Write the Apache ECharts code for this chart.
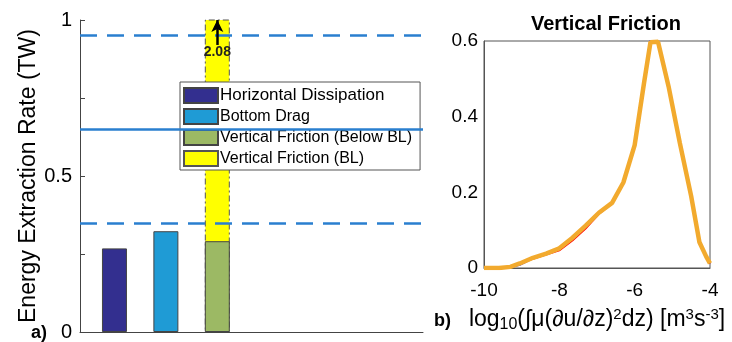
<!DOCTYPE html>
<html>
<head>
<meta charset="utf-8" />
<title>Energy Extraction</title>
<script src="https://cdn.jsdelivr.net/npm/echarts@6/dist/echarts.min.js"></script>
<style>
  html, body { margin: 0; padding: 0; background: #fff; }
  #main { width: 732px; height: 342px; }
</style>
</head>
<body>
<div id="main"></div>
<script type="text/javascript">
// panel a) bars
var barNames = ['Horizontal Dissipation', 'Bottom Drag', 'Vertical Friction (Below BL)', 'Vertical Friction (BL)'];
var barPos = [1, 2, 3, 3];
var barValues = [0.268, 0.323, 0.291, 2.08];
var barColors = ['#332f8f', '#1f9bd5', '#9cb964', '#ffff00'];
var refLines = [0.95, 0.65, 0.35];
var refTypes = ['dashed', 'solid', 'dashed'];

// panel b) vertical friction distribution
var logX = [-10, -9.6, -9.3, -9.05, -8.7, -8.35, -8.0, -7.65, -7.3, -6.95, -6.6, -6.3, -6.0, -5.75, -5.58, -5.38, -5.1, -4.8, -4.5, -4.28, -4.1, -4.0];
var orangeY = [0, 0, 0.003, 0.012, 0.027, 0.038, 0.052, 0.080, 0.112, 0.146, 0.172, 0.226, 0.325, 0.490, 0.597, 0.598, 0.480, 0.330, 0.190, 0.068, 0.030, 0.012];
var redY    = [0, 0, 0.002, 0.010, 0.024, 0.035, 0.046, 0.072, 0.104, 0.142, 0.170, 0.226, 0.328, 0.495, 0.600, 0.598, 0.482, 0.332, 0.192, 0.070, 0.032, 0.012];
var blueY   = [0, 0, 0.001, 0.008, 0.025, 0.036, 0.050, 0.078, 0.110, 0.145, 0.170, 0.226, 0.330, 0.500, 0.606, 0.598, 0.484, 0.334, 0.194, 0.072, 0.031, 0.012];

function pairs(xs, ys) {
  var out = [];
  for (var i = 0; i < xs.length; i++) out.push([xs[i], ys[i]]);
  return out;
}

var font = 'Liberation Sans, Arial, Helvetica, sans-serif';
var myChart = echarts.init(document.getElementById('main'));

var series = [];
for (var i = 0; i < barNames.length; i++) {
  var s = {
    name: barNames[i],
    type: 'bar',
    xAxisIndex: 0,
    yAxisIndex: 0,
    barWidth: 25,
    barGap: '-100%',
    z: i === 3 ? 1 : 2,
    data: [[barPos[i], barValues[i]]],
    itemStyle: {
      color: barColors[i],
      borderColor: '#444',
      borderWidth: 1
    }
  };
  if (i === 3) {
    s.itemStyle.borderColor = '#555';
    s.itemStyle.borderType = [6, 3, 2, 3];
  }
  series.push(s);
}

// reference lines
series[0].markLine = {
  silent: true,
  symbol: 'none',
  label: { show: false },
  data: refLines.map(function (v, k) {
    return {
      yAxis: v,
      lineStyle: { color: '#2a7fcf', width: 2.5, type: refTypes[k] === 'dashed' ? [17, 10] : 'solid' }
    };
  })
};

// arrow showing the clipped value
series[2].clip = false;
series[2].markLine = {
  silent: true,
  z: 5,
  symbol: ['none', 'arrow'],
  symbolSize: [9, 12],
  lineStyle: { color: '#000', width: 2.5, type: 'solid' },
  label: {
    show: true,
    position: 'start',
    distance: 0,
    formatter: String(barValues[3]),
    color: '#222',
    fontSize: 14,
    fontWeight: 'bold',
    fontFamily: font
  },
  data: [[{ coord: [barPos[3], 0.92] }, { coord: [barPos[3], 1] }]]
};

series.push({
  name: 'blue', type: 'line', xAxisIndex: 1, yAxisIndex: 1,
  data: pairs(logX, blueY), symbol: 'none',
  lineStyle: { color: '#2222ff', width: 1.5 }
});
series.push({
  name: 'red', type: 'line', xAxisIndex: 1, yAxisIndex: 1,
  data: pairs(logX, redY), symbol: 'none',
  lineStyle: { color: '#ff0000', width: 1.5 }
});
series.push({
  name: 'orange', type: 'line', xAxisIndex: 1, yAxisIndex: 1,
  data: pairs(logX, orangeY), symbol: 'none',
  lineStyle: { color: '#f2aa2e', width: 4.5 }
});

var option = {
  animation: false,
  textStyle: { fontFamily: font },
  title: [
    { text: 'Vertical Friction', left: 601, top: 9, textAlign: 'center',
      textStyle: { fontSize: 20, fontWeight: 'bold', color: '#000', fontFamily: font } },
    { text: 'a)', left: 31, top: 324, padding: 0,
      textStyle: { fontSize: 18, fontWeight: 'bold', color: '#000', fontFamily: font } },
    { text: 'b)', left: 434, top: 312, padding: 0,
      textStyle: { fontSize: 18, fontWeight: 'bold', color: '#000', fontFamily: font } }
  ],
  legend: {
    data: [
      { name: barNames[0], textStyle: { fontSize: 17 } },
      { name: barNames[1] },
      { name: barNames[2] },
      { name: barNames[3] }
    ],
    orient: 'vertical',
    left: 180,
    top: 82,
    itemWidth: 34,
    itemHeight: 15,
    itemGap: 4,
    padding: [5, 8, 3, 3],
    backgroundColor: '#fff',
    borderColor: '#555',
    borderWidth: 1,
    borderRadius: 0,
    icon: 'rect',
    textStyle: { fontSize: 16, lineHeight: 16, color: '#000', fontFamily: font, padding: [0, 0, 0, -3] }
  },
  grid: [
    { left: 80, right: 309, top: 20, bottom: 9 },
    { left: 484, right: 22, top: 41, bottom: 74, show: true, borderColor: '#555', borderWidth: 1 }
  ],
  xAxis: [
    {
      gridIndex: 0, type: 'value', min: 0.33, max: 7,
      axisLine: { show: true, onZero: false, lineStyle: { color: '#444', width: 1 } },
      axisTick: { show: false }, axisLabel: { show: false }, splitLine: { show: false }
    },
    {
      gridIndex: 1, type: 'value', min: -10, max: -4, interval: 2,
      axisLine: { show: true, onZero: false, lineStyle: { color: '#555', width: 1 } },
      axisTick: { show: false },
      axisLabel: { fontSize: 19, color: '#000', margin: 13, fontFamily: font },
      splitLine: { show: false },
      name: '{n|log}{s|10}{n|(∫μ(∂u/∂z)}{p|2}{n|dz) [m}{p|3}{n|s}{p|-3}{n|]}',
      nameLocation: 'middle',
      nameGap: 39,
      nameTextStyle: {
        fontFamily: font,
        rich: {
          n: { fontSize: 23, color: '#000', fontFamily: font, lineHeight: 26, verticalAlign: 'middle' },
          s: { fontSize: 16, color: '#000', fontFamily: font, lineHeight: 26, verticalAlign: 'bottom', padding: [10, 0, 0, 0] },
          p: { fontSize: 15, color: '#000', fontFamily: font, lineHeight: 26, verticalAlign: 'top', padding: [0, 0, 8, 0] }
        }
      }
    }
  ],
  yAxis: [
    {
      gridIndex: 0, type: 'value', min: 0, max: 1, interval: 0.25,
      axisLine: { show: true, lineStyle: { color: '#444', width: 1 } },
      axisTick: { show: true, inside: true, length: 5, lineStyle: { color: '#444' } },
      axisLabel: {
        fontSize: 20, color: '#000', margin: 8, fontFamily: font,
        formatter: function (v) { return (v === 0 || v === 0.5 || v === 1) ? String(v) : ''; }
      },
      splitLine: { show: false },
      name: 'Energy Extraction Rate (TW)',
      nameLocation: 'middle',
      nameGap: 40,
      nameTextStyle: { fontSize: 23, color: '#000', fontFamily: font }
    },
    {
      gridIndex: 1, type: 'value', min: 0, max: 0.6, interval: 0.2,
      axisLine: { show: true, lineStyle: { color: '#555', width: 1 } },
      axisTick: { show: false },
      axisLabel: { fontSize: 19, color: '#000', margin: 6, fontFamily: font },
      splitLine: { show: false }
    }
  ],
  series: series
};

if (option && typeof option === 'object') {
  myChart.setOption(option, true);
}
</script>
</body>
</html>
